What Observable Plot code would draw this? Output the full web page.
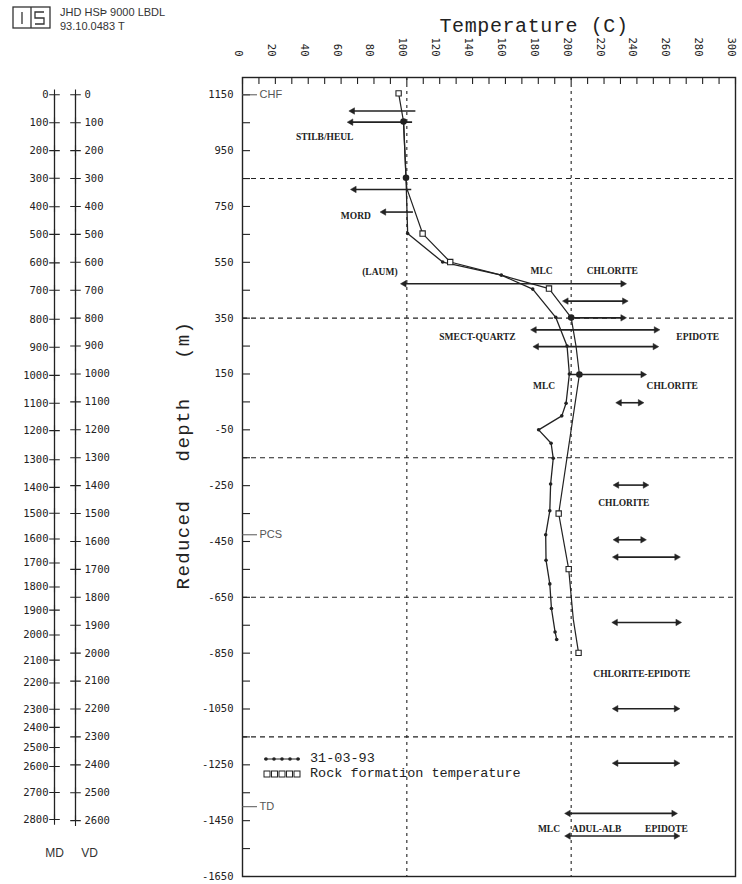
<!DOCTYPE html>
<html><head><meta charset="utf-8">
<script src="https://cdn.jsdelivr.net/npm/d3@7"></script>
<script src="https://cdn.jsdelivr.net/npm/@observablehq/plot@0.6"></script>
<style>
html,body{margin:0;padding:0;background:#fff;}
#wrap{position:relative;width:742px;height:884px;overflow:hidden;background:#fff;}
#wrap > svg{position:absolute;left:0;top:0;}
.hdr{position:absolute;left:60px;font-family:"Liberation Sans",Arial,sans-serif;font-size:11px;color:#333;line-height:13px;}
.legend{position:absolute;left:263px;top:751px;font-family:"Liberation Mono",monospace;font-size:13.5px;color:#222;line-height:15px;}
.legend div{display:flex;align-items:center;height:15px;}
.legend svg{margin-right:9px;}
</style></head>
<body><div id="wrap">
<svg width="60" height="34" style="position:absolute;left:0;top:0">
 <g fill="none" stroke="#333" stroke-width="1.3">
  <rect x="13" y="7" width="37" height="21"/>
  <line x1="31" y1="7" x2="31" y2="28"/>
  <line x1="22" y1="12" x2="22" y2="24"/>
  <path d="M44 12 H35 V18 H44 V24 H35"/>
 </g>
</svg>
<div class="hdr" style="top:6px">JHD HSÞ 9000 LBDL</div>
<div class="hdr" style="top:20px">93.10.0483 T</div>
</div>
<script>
const INK = "#222";
const MONO = "'DejaVu Sans Mono','Liberation Mono',monospace";
const TYPE = "'Liberation Mono',monospace";
const SERIF = "'Liberation Serif',serif";
const SANS = "'Liberation Sans',Arial,sans-serif";

// ---- axis ticks / labels ----
const tempLabels = [0, 20, 40, 60, 80, 100, 120, 140, 160, 180, 200, 220, 240, 260, 280, 300];
const tempTicks = [0, 10, 20, 30, 40, 50, 60, 70, 80, 90, 100, 110, 120, 130, 140, 150, 160, 170, 180, 190, 200, 210, 220, 230, 240, 250, 260, 270, 280, 290, 300];
const depthLabels = [1150, 950, 750, 550, 350, 150, -50, -250, -450, -650, -850, -1050, -1250, -1450, -1650];
const depthTicks = [1150, 1050, 950, 850, 750, 650, 550, 450, 350, 250, 150, 50, -50, -150, -250, -350, -450, -550, -650, -750, -850, -950, -1050, -1150, -1250, -1350, -1450, -1550, -1650];
const gridDepth = [850, 350, -150, -650, -1150];
const gridTemp = [100, 200];

// measured depth (MD) ticks and their reduced-depth elevations
const mdLabels = [0, 100, 200, 300, 400, 500, 600, 700, 800, 900, 1000, 1100, 1200, 1300, 1400, 1500, 1600, 1700, 1800, 1900, 2000, 2100, 2200, 2300, 2400, 2500, 2600, 2700, 2800];
const mdElev = [1150, 1050, 950, 851, 749, 650, 548, 450, 346, 246, 145, 45, -53, -157, -256, -349, -441, -527, -613, -696, -785, -875, -957, -1051, -1116, -1188, -1256, -1349, -1446];
// vertical depth (VD) ticks
const vdLabels = [0, 100, 200, 300, 400, 500, 600, 700, 800, 900, 1000, 1100, 1200, 1300, 1400, 1500, 1600, 1700, 1800, 1900, 2000, 2100, 2200, 2300, 2400, 2500, 2600];
const wellheadElev = 1150;

// ---- series: measured temperature 31-03-93 ----
const measTemp = [98, 99.5, 100.5, 121.8, 157.5, 176.6, 190.6, 197.5, 198.9, 196.9, 194.3, 180.2, 187.8, 189.1, 187.5, 187, 184.5, 184.7, 187, 188, 190.2, 191.2];
const measElev = [1054, 853, 653, 551, 504, 454, 353, 250, 150, 45, 0, -50, -98, -152, -244, -340, -426, -517, -602, -690, -774, -801];

// ---- series: rock formation temperature ----
const rockTemp = [95, 98, 99.5, 100, 109.6, 126.4, 157.5, 186.5, 200, 203, 205, 192.4, 198.5, 201.3, 204.5];
const rockElev = [1155, 1054, 853, 815, 653, 551, 504, 456, 352, 248, 148, -350, -549, -729, -849];
const rockSqTemp = [95, 109.6, 126.4, 186.5, 192.4, 198.5, 204.5];
const rockSqElev = [1155, 653, 551, 456, -350, -549, -849];

// larger dots where mineral ranges start on the curves
const bigDotTemp = [98, 99.5, 200, 205];
const bigDotElev = [1054, 853, 352, 148];

// ---- alteration mineral temperature ranges ----
const arrowT1 = [67, 66, 68, 86, 98.4, 197, 200, 177.6, 179, 199, 229.4, 227.8, 227.8, 227.4, 227, 227.3, 227.3, 198.3, 198.3];
const arrowT2 = [105.5, 103.5, 103, 104, 231.4, 232.4, 231.4, 251.7, 251, 243.6, 242, 245, 243.5, 264.2, 264.9, 263.9, 263.9, 262.4, 263.9];
const arrowElev = [1092, 1052, 811, 730, 473, 411, 351, 308, 248, 148, 47, -248, -444, -506, -740, -1049, -1244, -1424, -1505];
const arrowHead = ["left", "left", "left", "left", "both", "both", "right", "both", "both", "right", "both", "both", "both", "both", "both", "both", "both", "both", "both"];

const minName = ["STILB/HEUL", "MORD", "(LAUM)", "MLC", "CHLORITE", "SMECT-QUARTZ", "EPIDOTE", "MLC", "CHLORITE", "CHLORITE", "CHLORITE-EPIDOTE", "MLC", "ADUL-ALB", "EPIDOTE"];
const minTemp = [50, 69, 83.6, 182, 225, 143, 277, 183.5, 261.5, 232, 243, 186.5, 215.5, 258];
const minElev = [998, 717, 515, 519, 519, 281, 281, 106, 106, -313, -926, -1478, -1478, -1478];

// casing annotations
const casingName = ["CHF", "PCS", "TD"];
const casingElev = [1150, -426, -1400];

const yTitle = "Reduced   depth   (m)";
const xTitle = "Temperature (C)";

// ---- build tables ----
const measured = measTemp.map((t, i) => ({t, e: measElev[i]}));
const rock = rockTemp.map((t, i) => ({t, e: rockElev[i]}));
const rockSq = rockSqTemp.map((t, i) => ({t, e: rockSqElev[i]}));
const bigDots = bigDotTemp.map((t, i) => ({t, e: bigDotElev[i]}));
const arrows = arrowT1.map((t1, i) => ({t1, t2: arrowT2[i], e: arrowElev[i], head: arrowHead[i]}));
const heads = [];
arrows.forEach(a => {
  if (a.head === "left" || a.head === "both") heads.push({t: a.t1, e: a.e, rot: -90});
  if (a.head === "right" || a.head === "both") heads.push({t: a.t2, e: a.e, rot: 90});
});
const minerals = minName.map((n, i) => ({n, t: minTemp[i], e: minElev[i]}));
const casing = casingName.map((n, i) => ({n, e: casingElev[i]}));
const mdTicks = mdLabels.map((v, i) => ({v: String(v), e: mdElev[i]}));
const vdTicks = vdLabels.map(v => ({v: String(v), e: wellheadElev - v}));

const H = 884, MT = 77, MB = 8;
const yDomain = [-1650, 1212];
const frameW = 742 - 242 - 7, frameH = H - MT - MB;

const main = Plot.plot({
  width: 742, height: H,
  marginLeft: 242, marginRight: 7, marginTop: MT, marginBottom: MB,
  x: {domain: [0, 300], axis: null},
  y: {domain: yDomain, axis: null},
  style: {background: "transparent", color: INK},
  marks: [
    Plot.ruleY(gridDepth, {y: d => d, stroke: INK, strokeWidth: 1.1, strokeDasharray: "5,4"}),
    Plot.ruleX(gridTemp, {x: d => d, stroke: INK, strokeWidth: 1.1, strokeDasharray: "3,4"}),
    Plot.frame({stroke: INK, strokeWidth: 1.4}),
    Plot.tickX(tempTicks, {x: d => d, insetBottom: frameH - 7, stroke: INK, strokeWidth: 1.1}),
    Plot.text(tempLabels, {x: d => d, text: d => String(d), frameAnchor: "top", dy: -21, rotate: 90, textAnchor: "end", fontFamily: MONO, fontSize: 10.5}),
    Plot.tickY(depthTicks, {y: d => d, insetRight: frameW - 8, stroke: INK, strokeWidth: 1.1}),
    Plot.text(depthLabels, {y: d => d, text: d => String(d), frameAnchor: "left", dx: -9, textAnchor: "end", fontFamily: MONO, fontSize: 10.5}),
    Plot.text([xTitle], {frameAnchor: "top", textAnchor: "middle", dx: 45, dy: -60, fontFamily: TYPE, fontSize: 20}),
    Plot.text([yTitle], {frameAnchor: "left", textAnchor: "middle", dx: -60, dy: -22, rotate: -90, fontFamily: TYPE, fontSize: 19}),
    // casing marks
    Plot.tickY(casing, {y: "e", insetRight: frameW - 15, stroke: "#555", strokeWidth: 1}),
    Plot.text(casing, {y: "e", text: "n", frameAnchor: "left", dx: 17, textAnchor: "start", fontFamily: SANS, fontSize: 11, fill: "#555"}),
    // mineral ranges
    Plot.ruleY(arrows, {y: "e", x1: "t1", x2: "t2", stroke: INK, strokeWidth: 1.6}),
    Plot.dot(heads, {x: "t", y: "e", rotate: "rot", symbol: "triangle", r: 2.4, fill: INK, stroke: INK, strokeWidth: 0.5}),
    Plot.text(minerals, {x: "t", y: "e", text: "n", fontFamily: SERIF, fontWeight: "bold", fontSize: 9.5, fill: INK}),
    // curves
    Plot.line(rock, {x: "t", y: "e", stroke: INK, strokeWidth: 1.2}),
    Plot.line(measured, {x: "t", y: "e", stroke: INK, strokeWidth: 1.3}),
    Plot.dot(measured, {x: "t", y: "e", r: 1.8, fill: INK}),
    Plot.dot(bigDots, {x: "t", y: "e", r: 3.3, fill: INK}),
    Plot.dot(rockSq, {x: "t", y: "e", symbol: "square", r: 3, stroke: INK, fill: "white", strokeWidth: 1.1})
  ]
});

const left = Plot.plot({
  width: 150, height: H,
  marginLeft: 0, marginRight: 0, marginTop: MT, marginBottom: MB,
  x: {type: "point", domain: ["MD", "VD"], range: [43, 85], axis: null},
  y: {domain: yDomain, axis: null},
  style: {background: "transparent", color: INK},
  marks: [
    Plot.ruleX(["MD"], {x: d => d, y1: () => mdElev[0], y2: () => mdElev[mdElev.length - 1], stroke: INK, strokeWidth: 1.3}),
    Plot.ruleX(["VD"], {x: d => d, y1: () => vdTicks[0].e, y2: () => vdTicks[vdTicks.length - 1].e, stroke: INK, strokeWidth: 1.3}),
    Plot.dot(mdTicks, {x: () => "MD", y: "e", symbol: "plus", r: 3.5, stroke: INK, strokeWidth: 1.1}),
    Plot.dot(vdTicks, {x: () => "VD", y: "e", symbol: "plus", r: 3.5, stroke: INK, strokeWidth: 1.1}),
    Plot.text(mdTicks, {x: () => "MD", y: "e", text: "v", textAnchor: "end", dx: -6, fontFamily: MONO, fontSize: 10.5}),
    Plot.text(vdTicks, {x: () => "VD", y: "e", text: "v", textAnchor: "start", dx: 9, fontFamily: MONO, fontSize: 10.5}),
    Plot.text(["MD"], {x: d => d, frameAnchor: "bottom", textAnchor: "middle", dy: -20, fontFamily: SANS, fontSize: 12, fill: "#333"}),
    Plot.text(["VD"], {x: d => d, frameAnchor: "bottom", textAnchor: "middle", dx: 14, dy: -20, fontFamily: SANS, fontSize: 12, fill: "#333"})
  ]
});

const wrap = document.getElementById("wrap");
wrap.appendChild(left);
wrap.appendChild(main);

// typewriter spacing for the axis titles
d3.select(main).selectAll("text").each(function() {
  const t = this.textContent;
  if (t === yTitle) d3.select(this).attr("letter-spacing", "1.4px").style("white-space", "pre");
  if (t === xTitle) d3.select(this).attr("letter-spacing", "0.6px");
});

// legend
const lg = document.createElement("div");
lg.className = "legend";
lg.innerHTML =
  '<div><svg width="38" height="10"><line x1="1" y1="5" x2="37" y2="5" stroke="#222" stroke-width="1.2"/>' +
  [3, 11, 19, 27, 35].map(x => `<circle cx="${x}" cy="5" r="1.8" fill="#222"/>`).join("") +
  '</svg>31-03-93</div>' +
  '<div><svg width="38" height="10">' +
  [1, 8.5, 16, 23.5, 31].map(x => `<rect x="${x}" y="2" width="6" height="6" fill="none" stroke="#222" stroke-width="1"/>`).join("") +
  '</svg>Rock formation temperature</div>';
wrap.appendChild(lg);
</script>
</body></html>
